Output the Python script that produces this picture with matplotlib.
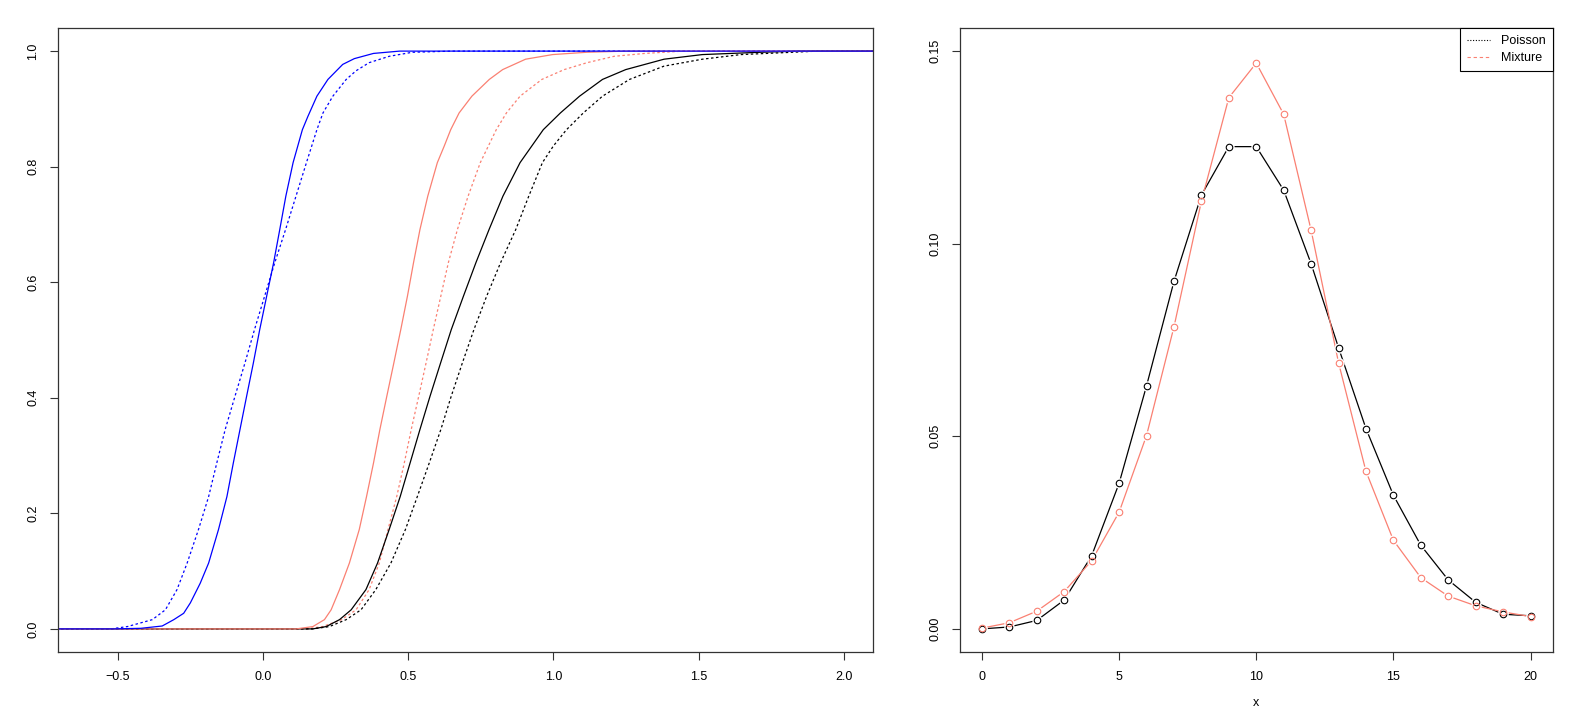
import matplotlib
matplotlib.use("Agg")
import matplotlib.pyplot as plt
from matplotlib.lines import Line2D

plt.rcParams["font.family"] = ["Liberation Sans", "DejaVu Sans"]
plt.rcParams["font.size"] = 9

blue_solid_x = [-0.80, -0.514, -0.422, -0.348, -0.308, -0.274, -0.251, -0.217, -0.188, -0.154,
                -0.125, -0.103, -0.080, -0.057, -0.034, -0.012, 0.012, 0.036, 0.057, 0.078,
                0.103, 0.135, 0.154, 0.185, 0.223, 0.274, 0.314, 0.380, 0.470, 2.20]
blue_solid_y = [0.0, 0.0, 0.001, 0.005, 0.016, 0.027, 0.045, 0.079, 0.114, 0.172,
                0.229, 0.287, 0.345, 0.403, 0.460, 0.518, 0.576, 0.634, 0.691, 0.749,
                0.807, 0.864, 0.887, 0.922, 0.951, 0.977, 0.987, 0.996, 1.0, 1.0]

blue_dot_x = [-0.80, -0.525, -0.468, -0.382, -0.337, -0.297, -0.262, -0.223, -0.188, -0.160,
              -0.131, -0.097, -0.063, -0.030, 0.005, 0.040, 0.077, 0.113, 0.149, 0.185,
              0.206, 0.240, 0.286, 0.320, 0.365, 0.434, 0.514, 0.650, 2.20]
blue_dot_y = [0.0, 0.0, 0.004, 0.016, 0.033, 0.068, 0.114, 0.172, 0.229, 0.287,
              0.345, 0.403, 0.460, 0.518, 0.576, 0.634, 0.691, 0.749, 0.807, 0.864,
              0.893, 0.922, 0.951, 0.966, 0.980, 0.991, 0.998, 1.0, 1.0]

salmon_solid_x = [-0.80, 0.114, 0.171, 0.211, 0.234, 0.263, 0.297, 0.331, 0.356, 0.380,
                  0.402, 0.426, 0.450, 0.474, 0.497, 0.518, 0.540, 0.567, 0.600, 0.624,
                  0.646, 0.675, 0.719, 0.779, 0.825, 0.904, 0.997, 1.115, 1.250, 2.20]
salmon_solid_y = [0.0, 0.0, 0.004, 0.016, 0.033, 0.068, 0.114, 0.172, 0.229, 0.287,
                  0.345, 0.403, 0.460, 0.518, 0.576, 0.634, 0.691, 0.749, 0.807, 0.836,
                  0.864, 0.893, 0.922, 0.951, 0.968, 0.986, 0.994, 0.998, 1.0, 1.0]

salmon_dot_x = [-0.80, 0.149, 0.205, 0.270, 0.320, 0.365, 0.400, 0.430, 0.460, 0.486,
                0.510, 0.536, 0.561, 0.586, 0.612, 0.638, 0.669, 0.706, 0.748, 0.803,
                0.838, 0.885, 0.960, 1.037, 1.116, 1.209, 1.315, 1.447, 2.20]
salmon_dot_y = [0.0, 0.0, 0.004, 0.016, 0.033, 0.068, 0.114, 0.172, 0.229, 0.287,
                0.345, 0.403, 0.460, 0.518, 0.576, 0.634, 0.691, 0.749, 0.807, 0.864,
                0.893, 0.922, 0.951, 0.968, 0.980, 0.991, 0.996, 1.0, 1.0]

black_solid_x = [-0.80, 0.171, 0.217, 0.263, 0.303, 0.354, 0.394, 0.434, 0.472, 0.506,
                 0.540, 0.575, 0.611, 0.648, 0.690, 0.733, 0.778, 0.826, 0.885, 0.965,
                 1.024, 1.090, 1.169, 1.249, 1.381, 1.513, 1.712, 1.844, 2.20]
black_solid_y = [0.0, 0.0, 0.004, 0.016, 0.033, 0.068, 0.114, 0.172, 0.229, 0.287,
                 0.345, 0.403, 0.460, 0.518, 0.576, 0.634, 0.691, 0.749, 0.807, 0.864,
                 0.893, 0.922, 0.951, 0.968, 0.986, 0.994, 0.998, 1.0, 1.0]

black_dot_x = [-0.80, 0.171, 0.228, 0.286, 0.337, 0.388, 0.440, 0.490, 0.531, 0.572,
               0.612, 0.648, 0.686, 0.726, 0.770, 0.818, 0.870, 0.915, 0.962, 1.000,
               1.045, 1.103, 1.169, 1.262, 1.381, 1.513, 1.646, 1.911, 2.20]
black_dot_y = [0.0, 0.0, 0.004, 0.016, 0.033, 0.068, 0.114, 0.172, 0.229, 0.287,
               0.345, 0.403, 0.460, 0.518, 0.576, 0.634, 0.691, 0.749, 0.807, 0.836,
               0.864, 0.893, 0.922, 0.951, 0.974, 0.986, 0.994, 1.0, 1.0]

# ---- right panel: probability at each count ----
counts = list(range(21))
poisson_p = [0.0000, 0.0005, 0.0022, 0.0075, 0.0190, 0.0378, 0.0631, 0.0902, 0.1126, 0.1252,
             0.1252, 0.1139, 0.0948, 0.0730, 0.0520, 0.0347, 0.0217, 0.0127, 0.0069, 0.0038,
             0.0034]
mixture_p = [0.0002, 0.0016, 0.0046, 0.0097, 0.0177, 0.0303, 0.0502, 0.0784, 0.1110, 0.1379,
             0.1469, 0.1336, 0.1035, 0.0691, 0.0409, 0.0230, 0.0133, 0.0085, 0.0060, 0.0044,
             0.0032]
legend_labels = ["Poisson", "Mixture"]

SALMON = "#FA8072"
MINUS = "\u2212"

fig = plt.figure(figsize=(15.78, 7.10), dpi=100)
ax1 = fig.add_axes([58 / 1578, 1 - 652 / 710, 815 / 1578, 624 / 710])
ax2 = fig.add_axes([960 / 1578, 1 - 652 / 710, 592.5 / 1578, 624 / 710])

lw = 0.9
dotted = (0, (2, 2))
ax1.plot(blue_dot_x, blue_dot_y, color="blue", lw=lw, ls=dotted)
ax1.plot(salmon_dot_x, salmon_dot_y, color=SALMON, lw=lw, ls=dotted)
ax1.plot(black_dot_x, black_dot_y, color="black", lw=lw, ls=dotted)
ax1.plot(black_solid_x, black_solid_y, color="black", lw=lw)
ax1.plot(salmon_solid_x, salmon_solid_y, color=SALMON, lw=lw)
ax1.plot(blue_solid_x, blue_solid_y, color="blue", lw=lw)
ax1.set_xlim(-0.707, 2.101)
ax1.set_ylim(-0.04, 1.04)
ax1.set_xticks([-0.5, 0.0, 0.5, 1.0, 1.5, 2.0])
ax1.set_xticklabels([MINUS + "0.5", "0.0", "0.5", "1.0", "1.5", "2.0"])
ax1.set_yticks([0.0, 0.2, 0.4, 0.6, 0.8, 1.0])
ax1.set_yticklabels(["0.0", "0.2", "0.4", "0.6", "0.8", "1.0"])

# type="b" look: line, white gap disc, open circle
ax2.plot(counts, poisson_p, color="black", lw=lw, zorder=2)
ax2.plot(counts, mixture_p, color=SALMON, lw=lw, zorder=2)
for series in (poisson_p, mixture_p):
    ax2.plot(counts, series, ls="none", marker="o", ms=7.5, mfc="white", mec="white", mew=0, zorder=3)
for series, col in [(poisson_p, "black"), (mixture_p, SALMON)]:
    ax2.plot(counts, series, ls="none", marker="o", ms=4.7, mfc="none", mec=col, mew=0.8, zorder=4)
ax2.set_xlim(-0.8, 20.8)
ax2.set_ylim(-0.006, 0.156)
ax2.set_xticks([0, 5, 10, 15, 20])
ax2.set_yticks([0.00, 0.05, 0.10, 0.15])
ax2.set_yticklabels(["0.00", "0.05", "0.10", "0.15"])
ax2.set_xlabel("x", labelpad=10)

handles = [Line2D([], [], color="black", lw=0.8, ls=(0, (1, 1.5))),
           Line2D([], [], color=SALMON, lw=0.8, ls=(0, (3, 2.5)))]
leg = ax2.legend(handles, legend_labels, loc="upper right", bbox_to_anchor=(1, 1),
                 borderaxespad=0, fancybox=False, framealpha=1, edgecolor="black",
                 fontsize=9, handlelength=1.8, handletextpad=0.9, labelspacing=0.4,
                 borderpad=0.55)
leg.get_frame().set_linewidth(0.8)

for ax in (ax1, ax2):
    for s in ax.spines.values():
        s.set_color("#333333")
        s.set_linewidth(0.9)
    ax.tick_params(direction="out", length=5.5, width=0.8, color="#333333", pad=8)
    for lab in ax.get_yticklabels():
        lab.set_rotation(90)
        lab.set_va("center")

fig.savefig("out.png", dpi=100)
